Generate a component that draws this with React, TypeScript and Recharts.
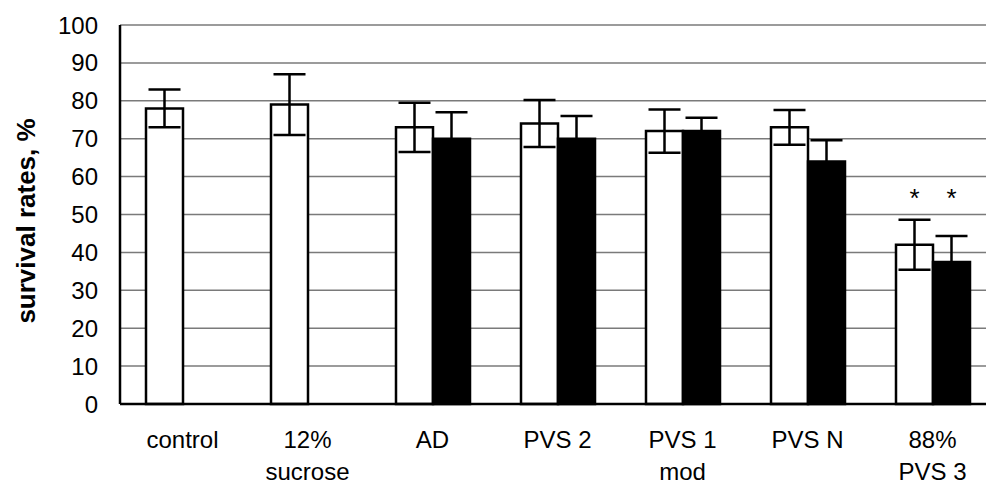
import React from 'react';
import { BarChart, Bar, XAxis, YAxis, CartesianGrid, ErrorBar, LabelList } from 'recharts';

const categories = ['control', '12%\nsucrose', 'AD', 'PVS 2', 'PVS 1\nmod', 'PVS N', '88%\nPVS 3'];
const whiteValues = [78, 79, 73, 74, 72, 73, 42];
const whiteErrors = [5, 8, 6.5, 6.2, 5.7, 4.6, 6.6];
const blackValues = [null, null, 70, 70, 72, 64, 37.5];
const blackErrors = [null, null, 7, 6, 3.5, 5.6, 6.8];
const significant = [false, false, false, false, false, false, true];
const yTicks = [0, 10, 20, 30, 40, 50, 60, 70, 80, 90, 100];
const starLevel = 52;

const data = categories.map((name, i) => ({
  name,
  white: whiteValues[i],
  whiteErr: whiteErrors[i],
  whiteStar: significant[i] ? whiteValues[i] : null,
  black: blackValues[i],
  blackErr: blackErrors[i],
  blackStar: significant[i] ? blackValues[i] : null,
}));

const FONT = 'Liberation Sans, Arial, sans-serif';

function XTick({ x, y, payload }: any) {
  const lines = String(payload.value).split('\n');
  return (
    <text x={x} y={y + 36} textAnchor="middle" fontFamily={FONT} fontSize={24} fill="#000">
      {lines.map((line, i) => (
        <tspan key={i} x={x} dy={i === 0 ? 0 : 32}>
          {line}
        </tspan>
      ))}
    </text>
  );
}

// asterisk drawn at a fixed value level, using the bar's own pixel scale
function Star(props: any) {
  const { x, y, width, height, value } = props;
  if (value == null || !height) return null;
  const base = y + height;
  const ty = base - (starLevel * height) / value;
  return (
    <text x={x + width / 2} y={ty} textAnchor="middle" fontFamily={FONT} fontSize={26} fill="#000">
      *
    </text>
  );
}

function YLabel() {
  return (
    <text
      x={26}
      y={221}
      transform="rotate(-90, 26, 221)"
      textAnchor="middle"
      dominantBaseline="central"
      fontFamily={FONT}
      fontWeight="bold"
      fontSize={26}
      fill="#000"
    >
      survival rates, %
    </text>
  );
}

export default function App() {
  return (
    <div style={{ position: 'absolute', left: 0, top: 0, width: 986, height: 486, overflow: 'hidden', background: '#fff' }}>
      <BarChart
        width={995}
        height={486}
        data={data}
        margin={{ top: 25, right: 0, bottom: 0, left: 0 }}
        barGap={0}
        barSize={37}
      >
        <CartesianGrid vertical={false} stroke="#7a7a7a" strokeWidth={1.5} />
        <XAxis
          dataKey="name"
          interval={0}
          tickLine={false}
          axisLine={{ stroke: '#000', strokeWidth: 2.5 }}
          tick={<XTick />}
          height={82}
        />
        <YAxis
          width={120}
          domain={[0, 100]}
          ticks={yTicks}
          interval={0}
          tickLine={false}
          tickSize={0}
          tickMargin={22}
          axisLine={{ stroke: '#000', strokeWidth: 2.5 }}
          tick={{ fontFamily: FONT, fontSize: 24, fill: '#000' }}
          label={<YLabel />}
        />
        <Bar dataKey="white" fill="#fff" stroke="#000" strokeWidth={2.5} isAnimationActive={false}>
          <ErrorBar dataKey="whiteErr" width={16} stroke="#000" strokeWidth={2.5} direction="y" />
          <LabelList dataKey="whiteStar" content={<Star />} />
        </Bar>
        <Bar dataKey="black" fill="#000" stroke="#000" strokeWidth={2.5} isAnimationActive={false}>
          <ErrorBar dataKey="blackErr" width={16} stroke="#000" strokeWidth={2.5} direction="y" />
          <LabelList dataKey="blackStar" content={<Star />} />
        </Bar>
      </BarChart>
    </div>
  );
}
